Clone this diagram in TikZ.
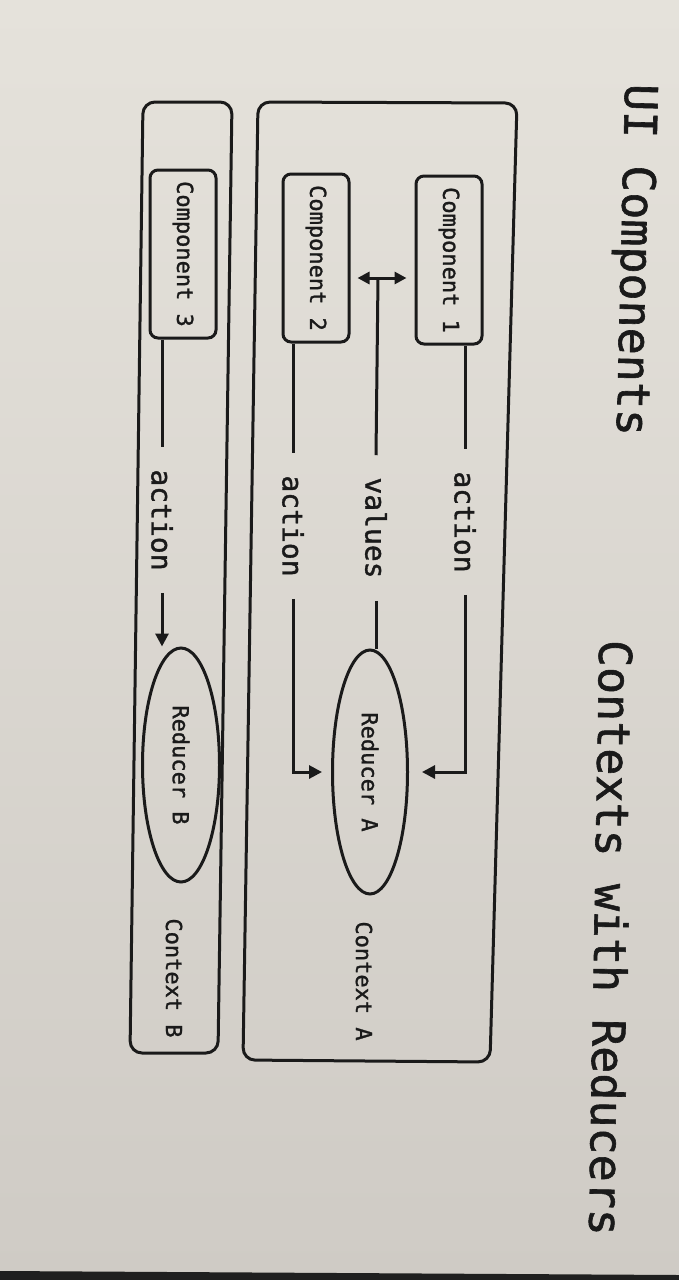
\documentclass[tikz,border=0pt]{standalone}
\usepackage{fontspec}
\newfontfamily\medmono[FakeBold=1.3]{DejaVu Sans Mono}
\usetikzlibrary{shapes.geometric,arrows.meta}
\definecolor{bgtop}{RGB}{229,226,219}
\definecolor{bgbot}{RGB}{207,203,197}
\definecolor{ink}{RGB}{26,26,26}
\begin{document}
\begin{tikzpicture}[x=1pt,y=-1pt,
  conn/.style={draw=ink, line width=3pt},
  tip/.style={-{Triangle[length=13pt,width=13pt]}},
  dtip/.style={{Triangle[length=12pt,width=12pt]}-{Triangle[length=12pt,width=12pt]}},
  comp/.style={draw=ink, line width=3pt, rounded corners=8pt, rotate=-90,
    minimum width=168pt, minimum height=66pt, inner sep=0pt,
    font=\fontsize{22}{24}\selectfont\medmono, text=ink},
  reducer/.style={draw=ink, line width=3pt, ellipse, rotate=-90, inner sep=0pt,
    font=\fontsize{22}{24}\selectfont\medmono, text=ink},
  lbl/.style={rotate=-90, inner xsep=22pt, inner ysep=0pt,
    font=\fontsize{28}{30}\selectfont\medmono, text=ink},
  ctx/.style={rotate=-90, inner sep=0pt,
    font=\fontsize{22}{24}\selectfont\medmono, text=ink},
  ttl/.style={inner sep=0pt,
    font=\fontsize{45}{48}\selectfont\medmono, text=ink}]
\useasboundingbox (0,0) rectangle (679,1280);
\shade[top color=bgtop, bottom color=bgbot] (0,0) rectangle (679,1280);
\fill[black!88] (0,1271) -- (679,1275) -- (679,1280) -- (0,1280) -- cycle;

% titles
\node[ttl, rotate=-91.4] (t1) at (633,260) {UI Components};
\node[ttl, rotate=-91] (t2) at (611,938) {Contexts with Reducers};

% context containers
\draw[conn, rounded corners=12pt] (258,102) -- (517,103) -- (490,1062) -- (243,1060) -- cycle;
\draw[conn, rounded corners=12pt] (143,102) -- (232,102) -- (218,1053) -- (130,1053) -- cycle;

% components
\node[comp] (c1) at (449,260) {Component 1};
\node[comp] (c2) at (316,258) {Component 2};
\node[comp] (c3) at (183,254) {Component 3};

% reducers
\node[reducer, minimum width=244pt, minimum height=75pt] (ra) at (370,772) {Reducer A};
\node[reducer, minimum width=234pt, minimum height=77pt] (rb) at (181,765) {Reducer B};

% context labels
\node[ctx] (ca) at (364,981) {Context A};
\node[ctx] (cb) at (174,978) {Context B};

% connector labels
\node[lbl] (a1) at (465,522) {action};
\node[lbl] (v)  at (376,528) {values};
\node[lbl] (a2) at (293,526) {action};
\node[lbl] (a3) at (162,520) {action};
\coordinate (jv) at (378,278);

% connectors
\draw[conn] (c1.east -| a1) -- (a1.west);
\draw[conn, tip, shorten >=13pt] (a1.east) |- (ra.north);
\draw[conn] (v.east) -- (v.east |- ra.west);
\draw[conn] (v.west) -- (jv);
\draw[conn, dtip, shorten <=7pt, shorten >=8pt] (c2.north |- jv) -- (c1.south |- jv);
\draw[conn] (c2.east -| a2) -- (a2.west);
\draw[conn, tip, shorten >=9pt] (a2.east) |- (ra.south);
\draw[conn] (c3.east -| a3) -- (a3.west);
\draw[conn, tip] (a3.east) -- (a3.east |- rb.west);
\end{tikzpicture}
\end{document}
